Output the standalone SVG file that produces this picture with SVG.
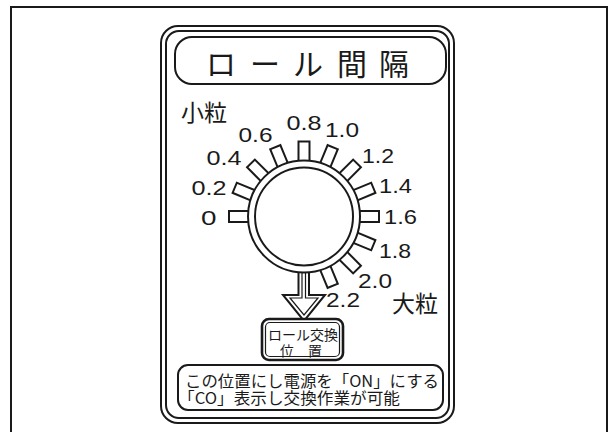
<svg xmlns="http://www.w3.org/2000/svg" xmlns:xlink="http://www.w3.org/1999/xlink" width="612" height="432" viewBox="0 0 612 432">
<style>
.ln{fill:none;stroke:#1a1a1a;stroke-width:2}
.thin{fill:none;stroke:#1a1a1a;stroke-width:1.2}
.num{font-family:"Liberation Sans","DejaVu Sans",sans-serif;font-size:21px;fill:#1a1a1a}
.jp{font-family:"Noto Sans CJK JP","Noto Sans",sans-serif;fill:#1a1a1a}
</style>
<defs>
<rect id="tick" x="52" y="-5.5" width="23" height="11" fill="#fff" stroke="#1a1a1a" stroke-width="2"/>
</defs>
<rect x="0" y="0" width="612" height="432" fill="#fff"/>
<g id="frame">
<rect class="ln" x="11" y="7" width="596" height="440"/>
</g>
<g id="panel">
<rect class="ln" x="161" y="26" width="293" height="397" rx="17"/>
<rect class="ln" x="166" y="31" width="283" height="387" rx="13"/>
</g>
<g id="title">
<rect class="ln" x="175" y="37" width="271" height="47" rx="17"/>
<g class="jp" font-size="30" text-anchor="middle">
<text x="221" y="75">ロ</text>
<text x="265" y="75">ー</text>
<text x="308" y="75">ル</text>
<text x="352" y="75">間</text>
<text x="394" y="75">隔</text>
</g>
</g>
<g id="small-label"><text class="jp" x="181" y="121" font-size="23">小粒</text></g>
<g id="large-label"><text class="jp" x="392" y="312" font-size="23">大粒</text></g>
<g id="dial">
<g transform="translate(304,216.5)">
<use xlink:href="#tick" transform="rotate(-180)"/>
<use xlink:href="#tick" transform="rotate(-157.5)"/>
<use xlink:href="#tick" transform="rotate(-135)"/>
<use xlink:href="#tick" transform="rotate(-112.5)"/>
<use xlink:href="#tick" transform="rotate(-90)"/>
<use xlink:href="#tick" transform="rotate(-67.5)"/>
<use xlink:href="#tick" transform="rotate(-45)"/>
<use xlink:href="#tick" transform="rotate(-22.5)"/>
<use xlink:href="#tick" transform="rotate(0)"/>
<use xlink:href="#tick" transform="rotate(22.5)"/>
<use xlink:href="#tick" transform="rotate(45)"/>
<use xlink:href="#tick" transform="rotate(67.5)"/>
<circle r="56" fill="#fff" stroke="#1a1a1a" stroke-width="2"/>
<circle r="49" fill="none" stroke="#1a1a1a" stroke-width="2"/>
</g>
</g>
<g id="scale-labels" class="num">
<text x="201" y="225" textLength="15.5" lengthAdjust="spacingAndGlyphs">0</text>
<text x="191.5" y="195" textLength="35" lengthAdjust="spacingAndGlyphs">0.2</text>
<text x="206.5" y="165" textLength="35" lengthAdjust="spacingAndGlyphs">0.4</text>
<text x="238.5" y="142" textLength="34" lengthAdjust="spacingAndGlyphs">0.6</text>
<text x="286.5" y="130" textLength="35" lengthAdjust="spacingAndGlyphs">0.8</text>
<text x="325" y="137" textLength="34" lengthAdjust="spacingAndGlyphs">1.0</text>
<text x="362" y="163" textLength="32" lengthAdjust="spacingAndGlyphs">1.2</text>
<text x="379" y="193" textLength="33" lengthAdjust="spacingAndGlyphs">1.4</text>
<text x="384" y="224" textLength="33" lengthAdjust="spacingAndGlyphs">1.6</text>
<text x="379" y="258" textLength="32" lengthAdjust="spacingAndGlyphs">1.8</text>
<text x="358" y="288" textLength="34" lengthAdjust="spacingAndGlyphs">2.0</text>
<text x="326" y="307" textLength="34" lengthAdjust="spacingAndGlyphs">2.2</text>
</g>
<g id="connectors">
<path class="ln" d="M298.5,272 V295 H283 L304,321 L325,295 H309 V272" fill="#fff"/>
<path class="thin" d="M302,272 V298 H290 L304,315 L318,298 H305.5 V272"/>
</g>
<g id="exchange-box">
<rect x="262" y="319" width="81" height="41" rx="7" fill="#fff" stroke="#1a1a1a" stroke-width="2.6"/>
<rect class="thin" x="265.5" y="322.5" width="74" height="34" rx="4.5"/>
<text class="jp" font-size="14" text-anchor="middle"><tspan x="303" y="339.5">ロール交換</tspan><tspan x="301" y="355.5">位　置</tspan></text>
</g>
<g id="note">
<rect class="ln" x="178" y="365" width="265" height="45" rx="10"/>
<text class="jp" font-size="16"><tspan x="185" y="387" textLength="254" lengthAdjust="spacingAndGlyphs">この位置にし電源を「ON」にする</tspan><tspan x="178" y="404" textLength="222" lengthAdjust="spacingAndGlyphs">「CO」表示し交換作業が可能</tspan></text>
</g>
</svg>
